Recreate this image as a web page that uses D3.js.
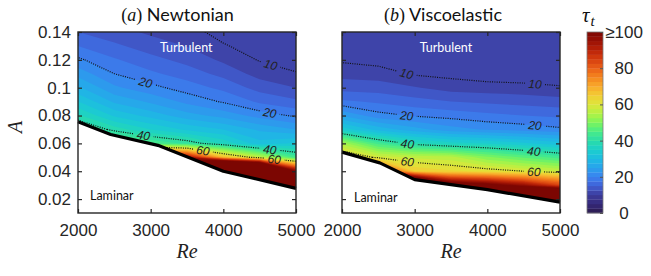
<!DOCTYPE html>
<html>
<head>
<meta charset="utf-8">
<script src="https://cdn.jsdelivr.net/npm/d3@7"></script>
<style>
  body { margin: 0; background: #fff; }
  svg { display: block; }
</style>
</head>
<body>
<div class="chart"></div>
<script>
// sample grid of the lifetime field: rows go with A (bottom to top), columns with Re
let reGrid = [2000, 2500, 3000, 3500, 4000, 4500, 5000];
let aGrid = [0.01, 0.02, 0.03, 0.04, 0.05, 0.06, 0.07, 0.08, 0.09, 0.10, 0.11, 0.12, 0.13, 0.14];

// values under the laminar edge are only there so the contours close, they get clipped
let newtonian = [
  [120, 120, 120, 120, 200, 200, 200],
  [120, 120, 120, 120, 200, 200, 200],
  [110, 110, 120, 120, 200, 200, 200],
  [100, 95, 120, 120, 200, 175, 100],
  [80, 70, 100, 95, 68, 57, 44],
  [60, 49, 45, 42, 37, 31, 33],
  [44, 39, 35, 32, 30, 27, 25],
  [38, 32, 29, 26, 24, 21.5, 19.5],
  [32.5, 27, 24.5, 21.8, 19.7, 17, 15.5],
  [28, 23, 20.8, 18.8, 16.8, 14, 12.5],
  [24, 20, 18, 16.3, 14.2, 11.5, 10.2],
  [20.5, 17.8, 15.8, 14.2, 12, 9.8, 8.8],
  [17.5, 15.5, 13.8, 12.4, 10.2, 9, 7.8],
  [15, 13.5, 12, 10.8, 9.2, 8, 7]
];

let viscoelastic = [
  [150, 150, 150, 150, 150, 150, 150],
  [150, 150, 150, 150, 150, 150, 150],
  [150, 150, 150, 110, 104, 96, 85],
  [100, 90, 65, 63, 62, 60, 57.5],
  [65, 59, 57, 56, 50.6, 47, 43.8],
  [54, 44, 38.5, 36, 35, 33, 31],
  [34, 29, 26, 23.5, 22.2, 21.5, 20.5],
  [24.7, 21, 19.7, 19, 18.2, 17.5, 17],
  [18, 17, 16, 15, 14.5, 14, 13.5],
  [14, 13.8, 12.7, 11.5, 11.2, 11, 10.4],
  [11.6, 11.2, 9.7, 9.2, 8.4, 8, 7.6],
  [9.6, 9, 7.8, 7.3, 6.8, 6.4, 6],
  [8.3, 7.6, 6.8, 6.3, 5.8, 5.4, 5],
  [7, 6.5, 6, 5.5, 5, 4.6, 4.2]
];

// laminar / turbulent edge
let edgeReN = [2000, 2450, 3100, 4000, 5000];
let edgeAN = [0.0755, 0.0664, 0.0586, 0.0400, 0.0277];
let edgeReV = [2000, 2520, 3000, 4000, 5000];
let edgeAV = [0.0537, 0.0460, 0.0340, 0.0268, 0.0178];

let reTicks = [2000, 3000, 4000, 5000];
let aTicks = [0.02, 0.04, 0.06, 0.08, 0.10, 0.12, 0.14];
let aTickLabels = ['0.02', '0.04', '0.06', '0.08', '0.1', '0.12', '0.14'];
let cbTicks = [0, 20, 40, 60, 80, 100];
let cbTickLabels = ['0', '20', '40', '60', '80', '\u2265100'];
let lineLevels = [10, 20, 40, 60];
let fillLevels = [0].concat(d3.range(12.5, 100.1, 2.5));

// colour map
let stops = d3.range(0, 101, 5);
let palette = ['#2b1a4c', '#35297a', '#3d3b9a', '#4160d6', '#3a82f0', '#29a2ec', '#1dbbe2',
  '#1bcfcc', '#2adca8', '#48ec88', '#7cf45c', '#b2f244', '#dce63a', '#f2cc34', '#f8aa2c',
  '#f4861f', '#ea6018', '#d63e0e', '#ba2208', '#9a1004', '#7c0602'];
let colour = d3.scaleLinear().domain(stops).range(palette).clamp(true);

function bandColour(t) {
  let i = fillLevels.indexOf(t);
  return i < fillLevels.length - 1 ? colour(fillLevels[i + 1] - 1.25) : colour(100);
}

let W = 651, H = 276;
let ink = '#262626';
let tickFont = '"Liberation Sans", Arial, sans-serif';
let textFont = 'Lato, "Open Sans", sans-serif';
let mathFont = '"Liberation Serif", "DejaVu Serif", serif';

let svg = d3.select('.chart')
  .append('svg')
  .attr('width', W)
  .attr('height', H);

svg.append('rect').attr('width', W).attr('height', H).attr('fill', '#fff');
let defs = svg.append('defs');

let y = d3.scaleLinear().domain([0.01, 0.14]).range([213, 32]);

let panels = [
  {id: 'n', left: 78, right: 296, table: newtonian, eRe: edgeReN, eA: edgeAN,
    labels: [[10, 4650], [20, 2930], [20, 4640], [40, 2900], [40, 4640], [60, 3720], [60, 4700]],
    title: ['a', 'Newtonian'], titleX: 177.5, turb: [3490, 0.1255], lam: [2165, 0.0195], showY: true},
  {id: 'v', left: 342, right: 560, table: viscoelastic, eRe: edgeReV, eA: edgeAV,
    labels: [[10, 2890], [10, 4656], [20, 2890], [20, 4656], [40, 2900], [40, 4640], [60, 2900], [60, 4640]],
    title: ['b', 'Viscoelastic'], titleX: 443, turb: [3430, 0.1255], lam: [2165, 0.018], showY: false}
];

panels.forEach(drawPanel);

function drawPanel(p) {
  let x = d3.scaleLinear().domain([2000, 5000]).range([p.left, p.right]);
  let g = svg.append('g');
  let nx = reGrid.length, ny = aGrid.length;
  let values = [].concat(...p.table);
  let reStep = reGrid[1] - reGrid[0], aStep = aGrid[1] - aGrid[0];
  // d3.contours puts sample k at k + 0.5
  let toRe = c => reGrid[0] + (c - 0.5) * reStep;
  let toA = c => aGrid[0] + (c - 0.5) * aStep;
  let path = d3.geoPath(d3.geoTransform({
    point: function(cx, cy) { this.stream.point(x(toRe(cx)), y(toA(cy))); }
  }));
  let contours = d3.contours().size([nx, ny]);
  let edge = d3.scaleLinear().domain(p.eRe).range(p.eA);

  // turbulent region = above the edge
  let clipPts = p.eRe.map((r, i) => [x(r), y(p.eA[i])])
    .concat([[x(5000), y(0.14)], [x(2000), y(0.14)]]);
  defs.append('clipPath')
    .attr('id', 'turb-' + p.id)
    .append('path')
    .attr('d', d3.line()(clipPts) + 'Z');

  g.append('g')
    .attr('clip-path', `url(#turb-${p.id})`)
    .selectAll('path')
    .data(contours.thresholds(fillLevels)(values))
    .join('path')
    .attr('d', path)
    .attr('fill', d => bandColour(d.value));

  // find where the labels sit on the lines
  let spots = [];
  p.labels.forEach(([level, re]) => {
    let c = contours.contour(values, level);
    let tx = x(re), hit = null;
    c.coordinates.forEach(poly => poly.forEach(ring => {
      for (let i = 1; i < ring.length; i++) {
        let x0 = x(toRe(ring[i - 1][0])), y0 = y(toA(ring[i - 1][1]));
        let x1 = x(toRe(ring[i][0])), y1 = y(toA(ring[i][1]));
        if (x0 === x1 || (x0 - tx) * (x1 - tx) > 0) continue;
        let py = y0 + (tx - x0) / (x1 - x0) * (y1 - y0);
        let a = y.invert(py);
        if (a > edge(re) && a < 0.14) {
          let ang = Math.atan2(y1 - y0, x1 - x0) * 180 / Math.PI;
          if (ang > 90) ang -= 180;
          if (ang < -90) ang += 180;
          hit = {x: tx, y: py, angle: ang, level: level};
        }
      }
    }));
    if (hit) spots.push(hit);
  });

  let mask = defs.append('mask')
    .attr('id', 'gap-' + p.id)
    .attr('maskUnits', 'userSpaceOnUse')
    .attr('x', 0).attr('y', 0).attr('width', W).attr('height', H);
  mask.append('rect').attr('width', W).attr('height', H).attr('fill', '#fff');
  mask.selectAll('rect.gap')
    .data(spots)
    .join('rect')
    .attr('class', 'gap')
    .attr('x', -10).attr('y', -6).attr('width', 20).attr('height', 12)
    .attr('fill', '#000')
    .attr('transform', d => `translate(${d.x},${d.y}) rotate(${d.angle})`);

  g.append('g')
    .attr('clip-path', `url(#turb-${p.id})`)
    .append('g')
    .attr('mask', `url(#gap-${p.id})`)
    .selectAll('path')
    .data(lineLevels.map(l => contours.contour(values, l)))
    .join('path')
    .attr('d', path)
    .attr('fill', 'none')
    .attr('stroke', '#111')
    .attr('stroke-width', 1.2)
    .attr('stroke-dasharray', '1 1.3');

  g.selectAll('text.clabel')
    .data(spots)
    .join('text')
    .attr('class', 'clabel')
    .attr('transform', d => `translate(${d.x},${d.y}) rotate(${d.angle})`)
    .attr('text-anchor', 'middle')
    .attr('dy', '0.36em')
    .style('font-family', tickFont)
    .style('font-style', 'italic')
    .style('font-size', '12px')
    .style('fill', '#222')
    .text(d => d.level);

  // laminar edge
  g.append('path')
    .datum(p.eRe.map((r, i) => [r, p.eA[i]]))
    .attr('d', d3.line().x(d => x(d[0])).y(d => y(d[1])))
    .attr('fill', 'none')
    .attr('stroke', '#000')
    .attr('stroke-width', 3.2)
    .attr('stroke-linejoin', 'round');

  // axes, ticks inside on all four sides
  g.append('g')
    .attr('transform', 'translate(0,213)')
    .call(d3.axisBottom(x).tickValues(reTicks).tickSize(-4).tickSizeOuter(0).tickPadding(11)
      .tickFormat(d3.format('d')));
  g.append('g').attr('transform', 'translate(0,32)')
    .call(d3.axisTop(x).tickValues(reTicks).tickSize(-4).tickSizeOuter(0).tickFormat(''));
  g.append('g')
    .attr('transform', `translate(${p.left},0)`)
    .call(d3.axisLeft(y).tickValues(aTicks).tickSize(-4).tickSizeOuter(0).tickPadding(7)
      .tickFormat((d, i) => p.showY ? aTickLabels[i] : ''));
  g.append('g').attr('transform', `translate(${p.right},0)`)
    .call(d3.axisRight(y).tickValues(aTicks).tickSize(-4).tickSizeOuter(0).tickFormat(''));
  g.selectAll('.domain').remove();
  g.selectAll('.tick line').attr('stroke', ink).attr('stroke-width', 1.2);
  g.selectAll('.tick text')
    .style('font-family', tickFont)
    .style('font-size', '17px')
    .style('fill', ink);

  g.append('rect')
    .attr('x', p.left).attr('y', 32)
    .attr('width', p.right - p.left).attr('height', 213 - 32)
    .attr('fill', 'none')
    .attr('stroke', ink)
    .attr('stroke-width', 1.4);

  // annotations
  g.append('text')
    .attr('x', x(p.turb[0])).attr('y', y(p.turb[1]))
    .attr('text-anchor', 'middle')
    .style('font-family', textFont).style('font-size', '12.5px').style('fill', '#fff')
    .text('Turbulent');
  g.append('text')
    .attr('x', x(p.lam[0])).attr('y', y(p.lam[1]))
    .style('font-family', textFont).style('font-size', '12.5px').style('fill', '#111')
    .text('Laminar');

  let t = g.append('text')
    .attr('x', p.titleX).attr('y', 21)
    .attr('text-anchor', 'middle')
    .style('fill', '#111');
  t.append('tspan').style('font-family', mathFont).style('font-size', '18px').text('(');
  t.append('tspan').style('font-family', mathFont).style('font-size', '18px').style('font-style', 'italic').text(p.title[0]);
  t.append('tspan').style('font-family', mathFont).style('font-size', '18px').text(')');
  t.append('tspan').style('font-family', textFont).style('font-size', '18px').text('\u00a0' + p.title[1]);

  g.append('text')
    .attr('x', (p.left + p.right) / 2).attr('y', 258)
    .attr('text-anchor', 'middle')
    .style('font-family', mathFont).style('font-style', 'italic').style('font-size', '20px')
    .style('fill', '#222')
    .text('Re');
}

// y label
svg.append('text')
  .attr('transform', 'translate(22,127) rotate(-90)')
  .attr('text-anchor', 'middle')
  .style('font-family', mathFont).style('font-style', 'italic').style('font-size', '20px')
  .style('fill', '#222')
  .text('A');

// colour bar
let cb = svg.append('g');
let cY = d3.scaleLinear().domain([0, 100]).range([213, 32]);
let cbLeft = 587, cbRight = 603;
cb.selectAll('rect.band')
  .data(d3.range(0, 100, 2.5))
  .join('rect')
  .attr('class', 'band')
  .attr('x', cbLeft)
  .attr('y', d => cY(d + 2.5))
  .attr('width', cbRight - cbLeft)
  .attr('height', d => cY(d) - cY(d + 2.5) + 0.3)
  .attr('fill', d => colour(d + 1.25));
cb.append('rect')
  .attr('x', cbLeft).attr('y', 32)
  .attr('width', cbRight - cbLeft).attr('height', 181)
  .attr('fill', 'none').attr('stroke', '#7a7a7a').attr('stroke-width', 0.8);
let cbAxis = cb.append('g')
  .attr('transform', `translate(${cbRight},0)`)
  .call(d3.axisRight(cY).tickValues(cbTicks).tickSize(-3).tickSizeOuter(0)
    .tickFormat((d, i) => cbTickLabels[i]));
cbAxis.select('.domain').remove();
cbAxis.selectAll('.tick line').attr('stroke', '#555');
cbAxis.selectAll('.tick text')
  .attr('x', 21)
  .attr('text-anchor', 'middle')
  .style('font-family', tickFont)
  .style('font-size', '17px')
  .style('fill', ink);

let tau = svg.append('text')
  .attr('x', 582).attr('y', 22)
  .style('font-family', mathFont).style('font-style', 'italic').style('fill', '#111');
tau.append('tspan').style('font-size', '21px').text('\u03c4');
tau.append('tspan').attr('dx', 1).attr('dy', 4).style('font-size', '15px').text('t');
</script>
</body>
</html>
